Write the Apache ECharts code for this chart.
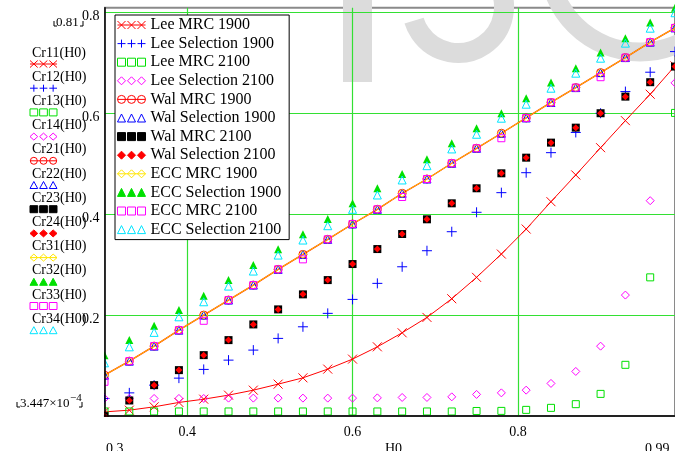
<!DOCTYPE html>
<html>
<head>
<meta charset="utf-8">
<script src="https://cdn.jsdelivr.net/npm/echarts@6/dist/echarts.min.js"></script>
<style>
  html, body { margin: 0; padding: 0; background: #fff; }
  #chart { width: 675px; height: 451px; }
</style>
</head>
<body>
<div id="chart"></div>
<script>
// x values (H0)
const h0 = [0.30, 0.33, 0.36, 0.39, 0.42, 0.45, 0.48, 0.51, 0.54, 0.57, 0.60, 0.63,
            0.66, 0.69, 0.72, 0.75, 0.78, 0.81, 0.84, 0.87, 0.90, 0.93, 0.96, 0.99];

// series values
const leeMrc1900 = [0.0087, 0.0121, 0.0187, 0.0274, 0.0339, 0.0419, 0.0518, 0.0637, 0.0762, 0.0935, 0.1133, 0.1377,
                    0.1655, 0.196, 0.233, 0.2754, 0.3216, 0.3712, 0.4254, 0.4784, 0.5325, 0.5861, 0.6385, 0.6946];
const leeSel1900 = [0.0353, 0.0464, 0.0617, 0.0756, 0.0929, 0.1113, 0.1312, 0.1544, 0.1774, 0.204, 0.2317, 0.2635,
                    0.2964, 0.3282, 0.3659, 0.4044, 0.4433, 0.4829, 0.5226, 0.5627, 0.6008, 0.6437, 0.6821, 0.723];
const leeMrc2100 = [0.0095, 0.0095, 0.0095, 0.0095, 0.0095, 0.0095, 0.0095, 0.0095, 0.0095, 0.0095, 0.0095, 0.0095,
                    0.0095, 0.0095, 0.0095, 0.0105, 0.0107, 0.0127, 0.0167, 0.024, 0.0444, 0.102, 0.2754, 0.6014];
const leeSel2100 = [0.0353, 0.0353, 0.0353, 0.0353, 0.0353, 0.036, 0.036, 0.036, 0.036, 0.036, 0.036, 0.0365,
                    0.0373, 0.0373, 0.0385, 0.0433, 0.0464, 0.0518, 0.0651, 0.0889, 0.139, 0.2403, 0.4274, 0.661];
const walMrc1900 = [0.0815, 0.1093, 0.1391, 0.1708, 0.2006, 0.2304, 0.2601, 0.2913, 0.321, 0.3508, 0.3812, 0.4103,
                    0.4421, 0.4704, 0.5016, 0.5313, 0.5611, 0.5915, 0.6222, 0.6516, 0.6813, 0.7111, 0.7417, 0.77];
const walSel1900 = [0.0815, 0.1093, 0.1391, 0.1708, 0.2006, 0.2304, 0.2601, 0.2913, 0.321, 0.3508, 0.3812, 0.4103,
                    0.4421, 0.4704, 0.5016, 0.5313, 0.5611, 0.5915, 0.6222, 0.6516, 0.6813, 0.7111, 0.7417, 0.77];
const walMrc2100 = [0.000345, 0.0313, 0.0617, 0.0915, 0.1212, 0.151, 0.1821, 0.2119, 0.2417, 0.27, 0.3018, 0.3315,
                    0.3613, 0.3905, 0.4222, 0.452, 0.4817, 0.5127, 0.5425, 0.5722, 0.6008, 0.6337, 0.6623, 0.6933];
const walSel2100 = [0.000345, 0.0313, 0.0617, 0.0915, 0.1212, 0.151, 0.1821, 0.2119, 0.2417, 0.27, 0.3018, 0.3315,
                    0.3613, 0.3905, 0.4222, 0.452, 0.4817, 0.5127, 0.5425, 0.5722, 0.6008, 0.6337, 0.6623, 0.6933];
const eccMrc1900 = [0.0815, 0.1093, 0.1391, 0.1708, 0.2006, 0.2304, 0.2601, 0.2913, 0.321, 0.3508, 0.3812, 0.4103,
                    0.4421, 0.4704, 0.5016, 0.5313, 0.5611, 0.5915, 0.6222, 0.6516, 0.6813, 0.7111, 0.7417, 0.77];
const eccSel1900 = [0.1212, 0.151, 0.1794, 0.2105, 0.2389, 0.27, 0.2998, 0.331, 0.3607, 0.3911, 0.4222, 0.452,
                    0.4804, 0.5095, 0.5413, 0.571, 0.6008, 0.6306, 0.6615, 0.6901, 0.721, 0.7496, 0.7806, 0.81];
const eccMrc2100 = [0.0683, 0.1093, 0.1391, 0.1708, 0.1893, 0.2304, 0.2601, 0.2913, 0.3111, 0.3508, 0.3812, 0.4103,
                    0.4347, 0.4704, 0.5016, 0.5313, 0.5512, 0.5915, 0.6222, 0.6516, 0.6722, 0.7111, 0.7417, 0.77];
const eccSel2100 = [0.106, 0.1377, 0.1663, 0.1972, 0.227, 0.2581, 0.2879, 0.3196, 0.3494, 0.3778, 0.4103, 0.4387,
                    0.4685, 0.4968, 0.53, 0.5591, 0.5909, 0.6187, 0.6504, 0.6802, 0.7099, 0.7397, 0.7694, 0.80];

const seriesNames = ['Lee MRC 1900', 'Lee Selection 1900', 'Lee MRC 2100', 'Lee Selection 2100',
                     'Wal MRC 1900', 'Wal Selection 1900', 'Wal MRC 2100', 'Wal Selection 2100',
                     'ECC MRC 1900', 'ECC Selection 1900', 'ECC MRC 2100', 'ECC Selection 2100'];
const traceLabels = ['Cr11(H0)', 'Cr12(H0)', 'Cr13(H0)', 'Cr14(H0)', 'Cr21(H0)', 'Cr22(H0)',
                     'Cr23(H0)', 'Cr24(H0)', 'Cr31(H0)', 'Cr32(H0)', 'Cr33(H0)', 'Cr34(H0)'];
const seriesData = [leeMrc1900, leeSel1900, leeMrc2100, leeSel2100, walMrc1900, walSel1900,
                    walMrc2100, walSel2100, eccMrc1900, eccSel1900, eccMrc2100, eccSel2100];

const xTicks = [0.4, 0.6, 0.8];
const yTicks = [0.2, 0.4, 0.6, 0.8];
const xMin = 0.3, xMax = 0.99;
const yMin = 3.447e-4, yMax = 0.81;

// marker shapes
const X_MARK = 'path://M0,0L10,10M10,0L0,10';
const PLUS_MARK = 'path://M5,0L5,10M0,5L10,5';

// 28x8 triple-symbol legend icons
const ICON = {
  xLine: 'M0,4L28,4M0,0L8,8M8,0L0,8M10,0L18,8M18,0L10,8M20,0L28,8M28,0L20,8',
  plus: 'M0,4L8,4M4,0L4,8M10,4L18,4M14,0L14,8M20,4L28,4M24,0L24,8',
  square: 'M0,0H8V8H0ZM10,0H18V8H10ZM20,0H28V8H20Z',
  diamond: 'M4,0L8,4L4,8L0,4ZM14,0L18,4L14,8L10,4ZM24,0L28,4L24,8L20,4Z',
  circleLine: 'M0,4A4,4,0,1,0,8,4A4,4,0,1,0,0,4ZM10,4A4,4,0,1,0,18,4A4,4,0,1,0,10,4ZM20,4A4,4,0,1,0,28,4A4,4,0,1,0,20,4ZM0,4L28,4',
  triangle: 'M4,0L8,8L0,8ZM14,0L18,8L10,8ZM24,0L28,8L20,8Z',
  diamondLine: 'M4,0L8,4L4,8L0,4ZM14,0L18,4L14,8L10,4ZM24,0L28,4L24,8L20,4ZM0,4L28,4'
};

const styles = [
  { color: '#ff0000', symbol: X_MARK, size: 9, hollow: true, icon: 'xLine' },
  { color: '#0000ff', symbol: PLUS_MARK, size: 10, hollow: true, icon: 'plus' },
  { color: '#00e000', symbol: 'rect', size: 7, hollow: true, icon: 'square' },
  { color: '#ff00ff', symbol: 'diamond', size: 8, hollow: true, icon: 'diamond' },
  { color: '#ff0000', symbol: 'circle', size: 8, hollow: true, icon: 'circleLine' },
  { color: '#0000ff', symbol: 'triangle', size: 8, hollow: true, icon: 'triangle' },
  { color: '#000000', symbol: 'rect', size: 8, hollow: false, icon: 'square' },
  { color: '#ff0000', symbol: 'diamond', size: 7, hollow: false, icon: 'diamond' },
  { color: '#ffe600', symbol: 'diamond', size: 8, hollow: true, icon: 'diamondLine' },
  { color: '#00e000', symbol: 'triangle', size: 8, hollow: false, icon: 'triangle' },
  { color: '#ff00ff', symbol: 'rect', size: 7, hollow: true, icon: 'square' },
  { color: '#00e5ff', symbol: 'triangle', size: 8, hollow: true, icon: 'triangle' }
];

const toPoints = arr => h0.map((x, i) => [x, arr[i]]);
const serif = 'Liberation Serif, Times New Roman, serif';
const gridGreen = '#33e033';

// small triple icons beside the trace names, built from primitives
function traceIcon(kind, x0, y0, color, hollow) {
  const sx = 27 / 28, sy = 7 / 8;
  const P = (x, y) => [x0 + x * sx, y0 + y * sy];
  const stroke = { stroke: color, lineWidth: 1, fill: 'none' };
  const body = { stroke: color, lineWidth: 1, fill: hollow ? 'none' : color };
  const out = [];
  const seg = (a, b, c, d) => out.push({ type: 'polyline', z: 10, shape: { points: [P(a, b), P(c, d)] }, style: stroke });
  [0, 10, 20].forEach(o => {
    if (kind === 'xLine') { seg(o, 0, o + 8, 8); seg(o + 8, 0, o, 8); }
    if (kind === 'plus') { seg(o, 4, o + 8, 4); seg(o + 4, 0, o + 4, 8); }
    if (kind === 'square') out.push({ type: 'polygon', z: 10, shape: { points: [P(o, 0), P(o + 8, 0), P(o + 8, 8), P(o, 8)] }, style: body });
    if (kind === 'diamond' || kind === 'diamondLine')
      out.push({ type: 'polygon', z: 10, shape: { points: [P(o + 4, 0), P(o + 8, 4), P(o + 4, 8), P(o, 4)] }, style: body });
    if (kind === 'triangle') out.push({ type: 'polygon', z: 10, shape: { points: [P(o + 4, 0), P(o + 8, 8), P(o, 8)] }, style: body });
    if (kind === 'circleLine') { const c = P(o + 4, 4); out.push({ type: 'circle', z: 10, shape: { cx: c[0], cy: c[1], r: 3.5 }, style: body }); }
  });
  if (kind === 'xLine' || kind === 'circleLine' || kind === 'diamondLine') seg(0, 4, 28, 4);
  return out;
}

const chart = echarts.init(document.getElementById('chart'));

// connecting lines (Lee MRC 1900, Wal MRC 1900, ECC MRC 1900)
const lineSeries = [
  { data: leeMrc1900, color: '#ff0000', width: 1 },
  { data: walMrc1900, color: '#ff2000', width: 1.4 },
  { data: eccMrc1900, color: '#ffc400', width: 1 }
].map((l, i) => ({
  type: 'line',
  name: 'line' + i,
  data: toPoints(l.data),
  symbol: 'none',
  silent: true,
  lineStyle: { color: l.color, width: l.width },
  z: 2
}));

const markerSeries = seriesNames.map((name, i) => {
  const s = styles[i];
  return {
    type: 'scatter',
    name: name,
    data: toPoints(seriesData[i]),
    symbol: s.symbol,
    symbolSize: s.size,
    silent: true,
    itemStyle: s.hollow
      ? { color: 'rgba(0,0,0,0)', borderColor: s.color, borderWidth: 1, opacity: 1 }
      : { color: s.color, borderColor: s.color, borderWidth: 0, opacity: 1 },
    z: 2
  };
});

// trace labels on the left (Cr11(H0) ...)
let traceGraphics = [];
traceLabels.forEach((t, i) => {
  const y = 53 + 24.2 * i;
  const s = styles[i];
  traceGraphics.push({
    type: 'text', x: 32, y: y, z: 10,
    style: { text: t, font: '14px ' + serif, fill: '#000', verticalAlign: 'middle' }
  });
  traceGraphics = traceGraphics.concat(traceIcon(s.icon, 30, y + 7.5, s.color, s.hollow));
});

const cornerL = (x, y) => ({ type: 'polyline', z: 10, shape: { points: [[x, y - 5], [x, y], [x + 3, y]] }, style: { stroke: '#000', lineWidth: 1, fill: 'none' } });
const cornerR = (x, y) => ({ type: 'polyline', z: 10, shape: { points: [[x - 3, y], [x, y], [x, y - 5]] }, style: { stroke: '#000', lineWidth: 1, fill: 'none' } });

const option = {
  animation: false,
  backgroundColor: '#fff',
  grid: { left: 104.5, top: 7.7, width: 571, height: 408.4, show: true,
          borderColor: '#8a8a8a', borderWidth: 2, backgroundColor: 'transparent' },
  legend: {
    orient: 'vertical',
    left: 115, top: 15,
    padding: [2, 8, 2, 2],
    itemGap: 2.6,
    itemWidth: 28, itemHeight: 8,
    backgroundColor: '#fff',
    borderColor: '#000', borderWidth: 1, borderRadius: 0,
    selectedMode: false,
    z: 6,
    itemStyle: { borderWidth: 1 },
    textStyle: { fontFamily: serif, fontSize: 16, color: '#000' },
    data: seriesNames.map((n, i) => ({ name: n, icon: 'path://' + ICON[styles[i].icon] }))
  },
  xAxis: [
    { type: 'value', min: xMin, max: xMax, z: 1,
      axisLine: { show: false }, axisLabel: { show: false },
      axisTick: { show: false, customValues: xTicks },
      splitLine: { show: true, lineStyle: { color: gridGreen, width: 1.2 } } },
    { type: 'value', min: xMin, max: xMax, z: 5, position: 'bottom',
      axisLine: { show: true, onZero: false, lineStyle: { color: '#000', width: 1.5 } },
      axisTick: { show: false, customValues: xTicks },
      splitLine: { show: false },
      axisLabel: { customValues: xTicks, margin: 9, color: '#000', fontFamily: serif, fontSize: 14,
                   formatter: v => String(+v.toFixed(2)) } }
  ],
  yAxis: [
    { type: 'value', min: yMin, max: yMax, z: 1,
      axisLine: { show: false }, axisLabel: { show: false },
      axisTick: { show: false, customValues: yTicks },
      splitLine: { show: true, lineStyle: { color: gridGreen, width: 1.2 } } },
    { type: 'value', min: yMin, max: yMax, z: 5, position: 'left',
      axisLine: { show: true, onZero: false, lineStyle: { color: '#000', width: 1.5 } },
      axisTick: { show: false, customValues: yTicks },
      splitLine: { show: false },
      axisLabel: { customValues: yTicks, margin: 5, color: '#000', fontFamily: serif, fontSize: 14,
                   formatter: v => '{v|' + String(+v.toFixed(2)) + '}',
                   rich: { v: { fontFamily: serif, fontSize: 14, color: '#000', padding: [7, 0, 0, 0] } } } }
  ],
  graphic: [
    // watermark
    { type: 'rect', z: 0, shape: { x: 343, y: 0, width: 29, height: 82 }, style: { fill: '#dcdcdc' } },
    { type: 'arc', z: 0, shape: { cx: 458, cy: 7, r: 46, startAngle: -0.6, endAngle: Math.PI - 0.3, clockwise: true },
      style: { stroke: '#dcdcdc', lineWidth: 20, fill: 'none' } },
    { type: 'arc', z: 0, shape: { cx: 640, cy: -40, r: 92, startAngle: 0, endAngle: Math.PI + 0.6, clockwise: true },
      style: { stroke: '#dcdcdc', lineWidth: 19, fill: 'none' } },
    // clip markers at the plot frame
    { type: 'rect', z: 3, shape: { x: 0, y: 0, width: 104, height: 451 }, style: { fill: '#fff' } },
    { type: 'rect', z: 3, shape: { x: 0, y: 417, width: 675, height: 34 }, style: { fill: '#fff' } },
    // y limits
    { type: 'text', x: 56, y: 23, z: 10, style: { text: String(yMax), font: '13px ' + serif, fill: '#000', verticalAlign: 'middle' } },
    cornerL(54, 26), cornerR(83, 26),
    { type: 'text', x: 20, y: 404, z: 10, style: { text: '3.447×10', font: '13px ' + serif, fill: '#000', verticalAlign: 'middle' } },
    { type: 'text', x: 70, y: 398, z: 10, style: { text: '−4', font: '11px ' + serif, fill: '#000', verticalAlign: 'middle' } },
    cornerL(17, 407), cornerR(82, 407),
    // x limits and axis name
    { type: 'text', x: 106, y: 449, z: 10, style: { text: String(xMin), font: '14px ' + serif, fill: '#000', verticalAlign: 'middle' } },
    { type: 'text', x: 385, y: 449, z: 10, style: { text: 'H0', font: '14px ' + serif, fill: '#000', verticalAlign: 'middle' } },
    { type: 'text', x: 645, y: 449, z: 10, style: { text: String(xMax), font: '14px ' + serif, fill: '#000', verticalAlign: 'middle' } }
  ].concat(traceGraphics),
  series: lineSeries.concat(markerSeries)
};

chart.setOption(option);
</script>
</body>
</html>
